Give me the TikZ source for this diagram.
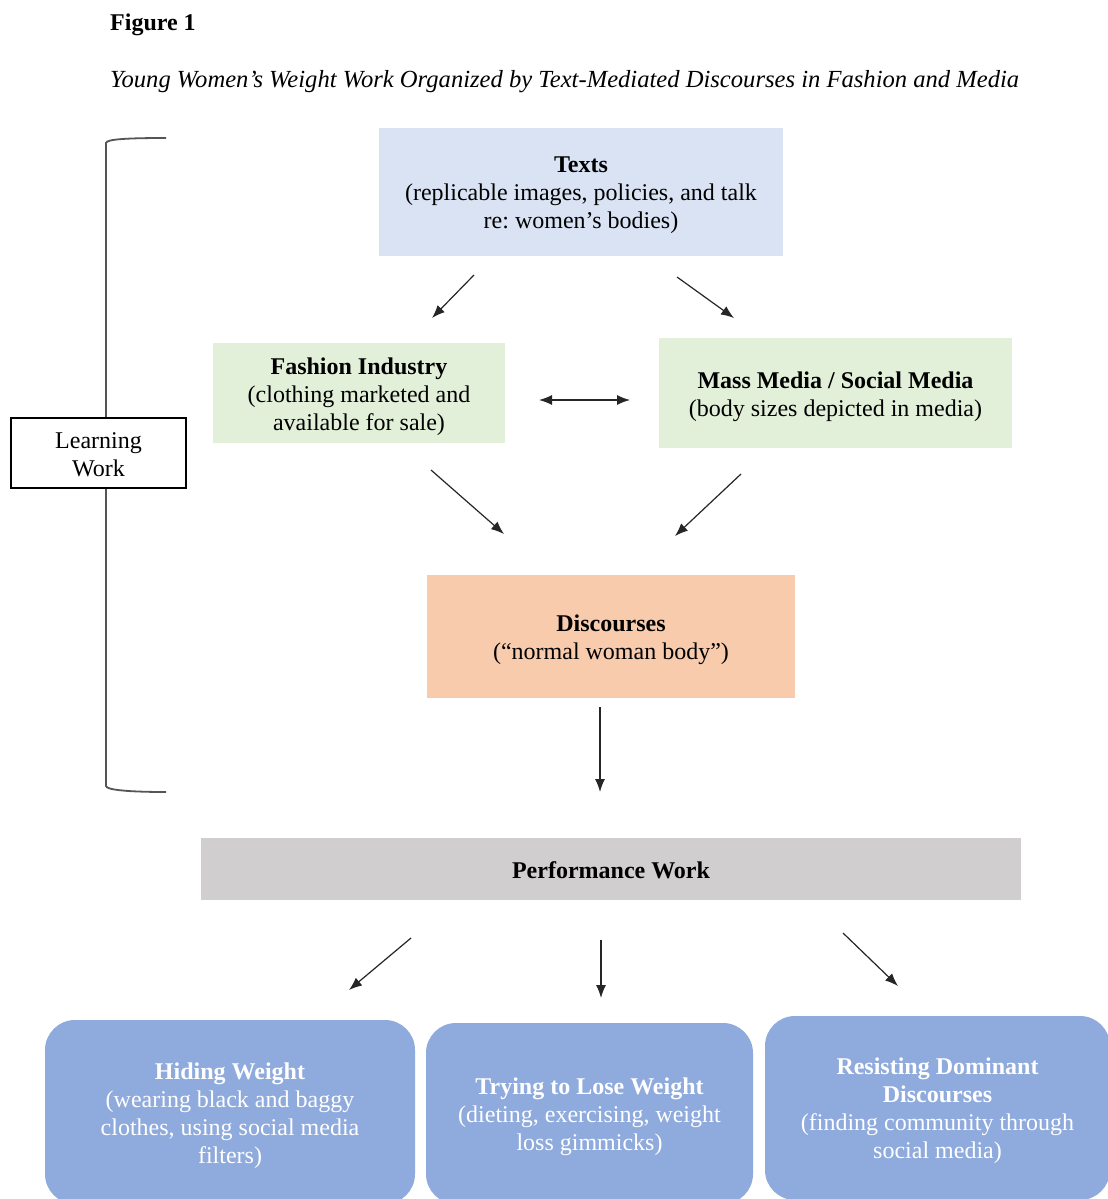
\documentclass[tikz,border=0pt]{standalone}
\usepackage{fontspec}
\setmainfont{Liberation Serif}
\usetikzlibrary{arrows.meta}
\definecolor{textsblue}{HTML}{DAE3F3}
\definecolor{lightgreen}{HTML}{E2EFD9}
\definecolor{peach}{HTML}{F8CBAD}
\definecolor{lightgray}{HTML}{D0CECE}
\definecolor{outblue}{HTML}{8FAADC}
\definecolor{bracketgray}{HTML}{555555}
\tikzset{
  box/.style={rectangle, inner sep=0pt},
  txt/.style={align=center, inner sep=0pt, font=\fontsize{24}{28}\selectfont},
  outbox/.style={box, fill=outblue, rounded corners=30pt},
  arr/.style={-{Latex[length=13pt,width=10pt]}, line width=1.2pt, draw=black!85},
  darr/.style={{Latex[length=13pt,width=10pt]}-{Latex[length=13pt,width=10pt]}, line width=1.2pt, draw=black!85},
  lbl/.style={inner sep=0pt, font=\fontsize{24}{28}\selectfont}
}
\frenchspacing
\begin{document}
\begin{tikzpicture}[x=1pt,y=-1pt]
\useasboundingbox (0,0) rectangle (1108,1199);
\clip (0,0) rectangle (1108,1199);
\fill[white] (0,0) rectangle (1108,1199);

% titles
\node[lbl, anchor=base west] (fig) at (110,31) {\textbf{Figure 1}};
\node[lbl, anchor=base west, font=\fontsize{24.6}{28}\selectfont] (title) at (110,88) {\textit{Young Women’s Weight Work Organized by Text-Mediated Discourses in Fashion and Media}};

% bracket
\draw[bracketgray, line width=1.8pt] (166,138) .. controls (130,138) and (106,139) .. (106,143) -- (106,786) .. controls (106,790) and (130,792) .. (166,792);

% learning work
\node[box, draw=black, fill=white, line width=1.2pt, minimum width=175pt, minimum height=70pt] (learn) at (98.5,453) {};
\node[txt] (learnT) at ([yshift=-2pt]learn.center) {Learning\\Work};

% main boxes
\node[box, fill=textsblue, minimum width=404pt, minimum height=128pt] (texts) at (581,192) {};
\node[txt] (textsT) at ([yshift=-3.5pt]texts.center) {\textbf{Texts}\\(replicable images, policies, and talk\\re: women’s bodies)};
\node[box, fill=lightgreen, minimum width=292pt, minimum height=100pt] (fashion) at (359,393) {};
\node[txt] (fashionT) at ([yshift=-3.5pt]fashion.center) {\textbf{Fashion Industry}\\(clothing marketed and\\available for sale)};
\node[box, fill=lightgreen, minimum width=353pt, minimum height=110pt] (media) at (835.5,393) {};
\node[txt] (mediaT) at ([yshift=-3.5pt]media.center) {\textbf{Mass Media / Social Media}\\(body sizes depicted in media)};
\node[box, fill=peach, minimum width=368pt, minimum height=123pt] (disc) at (611,636.5) {};
\node[txt] (discT) at ([yshift=-3.5pt]disc.center) {\textbf{Discourses}\\(“normal woman body”)};
\node[box, fill=lightgray, minimum width=820pt, minimum height=62pt] (perf) at (611,869) {};
\node[txt] (perfT) at ([yshift=-1pt]perf.center) {\textbf{Performance Work}};

% outcome boxes
\node[outbox, minimum width=370pt, minimum height=184pt] (hide) at (230,1112) {};
\node[txt, text=white] (hideT) at ([yshift=-3.5pt]hide.center) {\textbf{Hiding Weight}\\(wearing black and baggy\\clothes, using social media\\filters)};
\node[outbox, minimum width=327pt, minimum height=181pt] (lose) at (589.5,1113.5) {};
\node[txt, text=white] (loseT) at ([yshift=-3pt]lose.center) {\textbf{Trying to Lose Weight}\\(dieting, exercising, weight\\loss gimmicks)};
\node[outbox, minimum width=345pt, minimum height=184pt] (resist) at (937.5,1108) {};
\node[txt, text=white] (resistT) at ([yshift=-3pt]resist.center) {\textbf{Resisting Dominant}\\\textbf{Discourses}\\(finding community through\\social media)};

% arrow end points
\coordinate (a1s) at (474,275); \coordinate (a1e) at (432,318);
\coordinate (a2s) at (677,277); \coordinate (a2e) at (734,318);
\coordinate (a3s) at (539,400); \coordinate (a3e) at (630,400);
\coordinate (a4s) at (431,470); \coordinate (a4e) at (504,534);
\coordinate (a5s) at (741,474); \coordinate (a5e) at (675,536);
\coordinate (a6s) at (600,707); \coordinate (a6e) at (600,792);
\coordinate (a7s) at (411,938); \coordinate (a7e) at (349,990);
\coordinate (a8s) at (601,940); \coordinate (a8e) at (601,998);
\coordinate (a9s) at (843,933); \coordinate (a9e) at (898,986);

\draw[arr] (a1s) -- (a1e);
\draw[arr] (a2s) -- (a2e);
\draw[darr] (a3s) -- (a3e);
\draw[arr] (a4s) -- (a4e);
\draw[arr] (a5s) -- (a5e);
\draw[arr] (a6s) -- (a6e);
\draw[arr] (a7s) -- (a7e);
\draw[arr] (a8s) -- (a8e);
\draw[arr] (a9s) -- (a9e);
\end{tikzpicture}
\end{document}
